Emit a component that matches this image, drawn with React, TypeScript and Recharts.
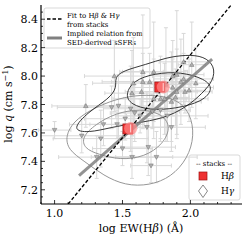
import { ComposedChart, XAxis, YAxis, Line, Scatter, ErrorBar } from 'recharts'

// axis ticks (minor + major) and which ones get a label
const xTicks = [0.9, 1.0, 1.1, 1.2, 1.3, 1.4, 1.5, 1.6, 1.7, 1.8, 1.9, 2.0, 2.1, 2.2, 2.3]
const xMajor = [1.0, 1.5, 2.0]
const yTicks = [
  7.15, 7.2, 7.25, 7.3, 7.35, 7.4, 7.45, 7.5, 7.55, 7.6, 7.65, 7.7, 7.75, 7.8, 7.85, 7.9, 7.95, 8.0,
  8.05, 8.1, 8.15, 8.2, 8.25, 8.3, 8.35, 8.4, 8.45,
]
const yMajor = [7.2, 7.4, 7.6, 7.8, 8.0, 8.2, 8.4]

// individual galaxies, high-q group (up triangles)
const upEW = [1.44, 1.23, 1.65, 1.65, 1.57, 1.64, 1.95, 2.01, 1.73, 1.87, 1.9, 1.7, 1.93, 1.95, 2.04, 1.82, 1.87, 1.9, 1.96, 1.99, 1.78, 1.81, 1.86, 1.89, 1.73, 1.58]
const upQ = [8.0, 7.79, 8.03, 7.96, 7.88, 7.89, 8.1, 8.08, 8.03, 8.0, 8.01, 7.96, 7.96, 7.98, 7.95, 7.94, 7.92, 7.89, 7.89, 7.9, 7.84, 7.84, 7.82, 7.85, 7.84, 7.95]
const upEWErr = [0.22, 0.25, 0.15, 0.3, 0.2, 0.12, 0.18, 0.1, 0.25, 0.15, 0.2, 0.28, 0.12, 0.22, 0.1, 0.18, 0.3, 0.15, 0.2, 0.12, 0.35, 0.16, 0.22, 0.1, 0.26, 0.3]
const upQErr = [0.25, 0.15, 0.4, 0.2, 0.3, 0.15, 0.2, 0.3, 0.35, 0.25, 0.45, 0.2, 0.3, 0.18, 0.25, 0.4, 0.2, 0.3, 0.15, 0.22, 0.3, 0.25, 0.35, 0.2, 0.28, 0.32]

// low-q group (down triangles)
const downEW = [1.0, 1.2, 1.36, 1.46, 1.34, 1.5, 1.31, 1.59, 1.72, 1.83, 1.68, 1.86, 1.57, 1.69, 1.71, 1.75, 1.42, 1.47, 1.56, 1.78, 1.52, 1.63]
const downQ = [7.62, 7.58, 7.66, 7.66, 7.56, 7.49, 7.43, 7.74, 7.75, 7.72, 7.64, 7.64, 7.43, 7.5, 7.37, 7.43, 7.78, 7.79, 7.77, 7.76, 7.7, 7.72]
const downEWErr = [0.12, 0.3, 0.25, 0.2, 0.35, 0.22, 0.28, 0.18, 0.2, 0.3, 0.15, 0.25, 0.3, 0.2, 0.15, 0.3, 0.4, 0.25, 0.2, 0.22, 0.3, 0.18]
const downQErr = [0.06, 0.12, 0.15, 0.1, 0.2, 0.12, 0.15, 0.2, 0.12, 0.18, 0.25, 0.1, 0.15, 0.2, 0.12, 0.18, 0.15, 0.22, 0.3, 0.2, 0.15, 0.12]

// stacked measurements
const stackEW = [1.775, 1.54]
const stackQ = [7.923, 7.628]
const stackGammaEW = [1.8, 1.56]
const stackGammaQ = [7.923, 7.632]

// relations
const fitEW = [1.1, 2.3]
const fitQ = [7.1, 8.5]
const sedEW = [1.18, 2.16]
const sedQ = [7.3, 8.12]

// density contours
const blackOuterEW = [1.12, 1.25, 1.4, 1.46, 1.44, 1.51, 1.67, 1.82, 1.97, 2.1, 2.18, 2.17, 2.09, 1.97, 1.8, 1.6, 1.42, 1.25]
const blackOuterQ = [7.62, 7.75, 7.84, 7.92, 7.99, 8.04, 8.08, 8.13, 8.15, 8.14, 8.07, 7.97, 7.88, 7.78, 7.7, 7.67, 7.64, 7.6]
const blackInnerEW = [1.52, 1.58, 1.74, 1.93, 2.11, 2.17, 2.09, 1.89, 1.7, 1.56]
const blackInnerQ = [7.87, 7.97, 8.02, 8.03, 7.98, 7.91, 7.82, 7.77, 7.76, 7.8]
const grayOuterEW = [1.08, 1.14, 1.26, 1.4, 1.55, 1.72, 1.9, 2.0, 2.03, 1.98, 1.86, 1.7, 1.52, 1.36, 1.22, 1.1]
const grayOuterQ = [7.58, 7.68, 7.76, 7.82, 7.86, 7.87, 7.84, 7.74, 7.58, 7.42, 7.29, 7.23, 7.23, 7.3, 7.4, 7.48]
const grayInnerEW = [1.2, 1.3, 1.45, 1.63, 1.78, 1.86, 1.8, 1.66, 1.48, 1.32, 1.22]
const grayInnerQ = [7.57, 7.66, 7.74, 7.77, 7.74, 7.65, 7.52, 7.43, 7.41, 7.45, 7.49]

const zip = (xs: number[], ys: number[]) => xs.map((x, i) => ({ x, y: ys[i] }))
const withErr = (xs: number[], ys: number[], exs: number[], eys: number[]) =>
  xs.map((x, i) => ({ x, y: ys[i], ex: exs[i], ey: eys[i] }))

const upData = withErr(upEW, upQ, upEWErr, upQErr)
const downData = withErr(downEW, downQ, downEWErr, downQErr)

const FONT = 'DejaVu Serif'
const X_DOMAIN: [number, number] = [0.9, 2.38]
const Y_DOMAIN: [number, number] = [7.1, 8.5]

const isMajor = (v: number, majors: number[]) => majors.some((m) => Math.abs(m - v) < 1e-6)

function BottomTick({ x, y, payload }: any) {
  const major = isMajor(payload.value, xMajor)
  return (
    <g>
      <line x1={x} x2={x} y1={y} y2={y - (major ? 4 : 2)} stroke="#000" strokeWidth={0.8} />
      {major && (
        <text x={x} y={y + 13} textAnchor="middle" fontSize={11} fontFamily={FONT} fill="#000">
          {payload.value.toFixed(1)}
        </text>
      )}
    </g>
  )
}

function TopTick({ x, y, payload }: any) {
  const major = isMajor(payload.value, xMajor)
  return <line x1={x} x2={x} y1={y} y2={y + (major ? 4 : 2)} stroke="#000" strokeWidth={0.8} />
}

function LeftTick({ x, y, payload }: any) {
  const major = isMajor(payload.value, yMajor)
  return (
    <g>
      <line x1={x} x2={x + (major ? 4 : 2)} y1={y} y2={y} stroke="#000" strokeWidth={0.8} />
      {major && (
        <text x={x - 3} y={y + 4} textAnchor="end" fontSize={11} fontFamily={FONT} fill="#000">
          {payload.value.toFixed(1)}
        </text>
      )}
    </g>
  )
}

function RightTick({ x, y, payload }: any) {
  const major = isMajor(payload.value, yMajor)
  return <line x1={x} x2={x - (major ? 4 : 2)} y1={y} y2={y} stroke="#000" strokeWidth={0.8} />
}

const UpTriangle = ({ cx, cy }: any) => (
  <path d={`M${cx},${cy - 2.3}L${cx + 2.3},${cy + 1.7}L${cx - 2.3},${cy + 1.7}Z`} fill="#b0b0b0" stroke="#6e6e6e" strokeWidth={0.5} />
)
const DownTriangle = ({ cx, cy }: any) => (
  <path d={`M${cx},${cy + 2.3}L${cx + 2.3},${cy - 1.7}L${cx - 2.3},${cy - 1.7}Z`} fill="#b0b0b0" stroke="#6e6e6e" strokeWidth={0.5} />
)
const StackSquare = ({ cx, cy }: any) => (
  <rect x={cx - 5} y={cy - 5} width={10} height={10} fill="#ee3030" stroke="#a01010" strokeWidth={0.7} />
)
const StackCircle = ({ cx, cy }: any) => (
  <g>
    <circle cx={cx} cy={cy} r={6.5} fill="#ff8a8a" fillOpacity={0.7} />
    <line x1={cx} x2={cx} y1={cy - 4} y2={cy + 4} stroke="#fff" strokeOpacity={0.7} strokeWidth={1} />
  </g>
)
const Nothing = () => <g />

const axisLine = { stroke: '#000', strokeWidth: 1.2 }

export default function App() {
  return (
    <div style={{ position: 'absolute', left: 0, top: 0 }}>
      <ComposedChart width={248} height={240} margin={{ top: 5, right: 6, left: 0, bottom: 0 }}>
        <XAxis
          type="number"
          dataKey="x"
          domain={X_DOMAIN}
          allowDataOverflow
          ticks={xTicks}
          interval={0}
          tickSize={0}
          tickMargin={0}
          tickLine={false}
          axisLine={axisLine}
          tick={<BottomTick />}
          height={36}
        />
        <XAxis
          xAxisId="top"
          orientation="top"
          type="number"
          dataKey="x"
          domain={X_DOMAIN}
          allowDataOverflow
          ticks={xTicks}
          interval={0}
          tickSize={0}
          tickMargin={0}
          tickLine={false}
          axisLine={axisLine}
          tick={<TopTick />}
          height={0}
        />
        <YAxis
          type="number"
          dataKey="y"
          domain={Y_DOMAIN}
          allowDataOverflow
          ticks={yTicks}
          interval={0}
          tickSize={0}
          tickMargin={0}
          tickLine={false}
          axisLine={axisLine}
          tick={<LeftTick />}
          width={41}
        />
        <YAxis
          yAxisId="right"
          orientation="right"
          type="number"
          dataKey="y"
          domain={Y_DOMAIN}
          allowDataOverflow
          ticks={yTicks}
          interval={0}
          tickSize={0}
          tickMargin={0}
          tickLine={false}
          axisLine={axisLine}
          tick={<RightTick />}
          width={0}
        />

        {/* error bars first, underneath everything else */}
        <Scatter data={upData} dataKey="y" shape={<Nothing />} isAnimationActive={false}>
          <ErrorBar dataKey="ex" direction="x" width={2} stroke="#d8d8d8" strokeWidth={1} isAnimationActive={false} />
          <ErrorBar dataKey="ey" direction="y" width={2} stroke="#d8d8d8" strokeWidth={1} isAnimationActive={false} />
        </Scatter>
        <Scatter data={downData} dataKey="y" shape={<Nothing />} isAnimationActive={false}>
          <ErrorBar dataKey="ex" direction="x" width={2} stroke="#d8d8d8" strokeWidth={1} isAnimationActive={false} />
          <ErrorBar dataKey="ey" direction="y" width={2} stroke="#d8d8d8" strokeWidth={1} isAnimationActive={false} />
        </Scatter>

        <Line data={zip(grayOuterEW, grayOuterQ)} dataKey="y" type="basisClosed" stroke="#8a8a8a" strokeWidth={0.9} dot={false} isAnimationActive={false} />
        <Line data={zip(grayInnerEW, grayInnerQ)} dataKey="y" type="basisClosed" stroke="#8a8a8a" strokeWidth={0.9} dot={false} isAnimationActive={false} />
        <Line data={zip(blackOuterEW, blackOuterQ)} dataKey="y" type="basisClosed" stroke="#222" strokeWidth={0.9} dot={false} isAnimationActive={false} />
        <Line data={zip(blackInnerEW, blackInnerQ)} dataKey="y" type="basisClosed" stroke="#222" strokeWidth={0.9} dot={false} isAnimationActive={false} />

        <Scatter data={upData} dataKey="y" shape={<UpTriangle />} isAnimationActive={false} />
        <Scatter data={downData} dataKey="y" shape={<DownTriangle />} isAnimationActive={false} />

        <Line data={zip(sedEW, sedQ)} dataKey="y" type="linear" stroke="#808080" strokeOpacity={0.85} strokeWidth={3} dot={false} isAnimationActive={false} />
        <Line data={zip(fitEW, fitQ)} dataKey="y" type="linear" stroke="#000" strokeWidth={1.3} strokeDasharray="3.5 2" dot={false} isAnimationActive={false} />

        <Scatter data={zip(stackEW, stackQ)} dataKey="y" shape={<StackSquare />} isAnimationActive={false} />
        <Scatter data={zip(stackGammaEW, stackGammaQ)} dataKey="y" shape={<StackCircle />} isAnimationActive={false} />

        {/* axis titles */}
        <text x={141} y={232} textAnchor="middle" fontSize={11} fontFamily={FONT}>
          log EW(H<tspan fontStyle="italic">β</tspan>)  (Å)
        </text>
        <text x={12} y={104} textAnchor="middle" fontSize={11} fontFamily={FONT} transform="rotate(-90 12 104)">
          log <tspan fontStyle="italic">q</tspan> (cm s<tspan dy={-4} fontSize={8}>−1</tspan><tspan dy={4}>)</tspan>
        </text>

        {/* upper-left legend */}
        <rect x={44} y={8} width={106} height={40} rx={2} fill="#fff" fillOpacity={0.9} stroke="#cfcfcf" strokeWidth={0.8} />
        <line x1={47} x2={62} y1={19} y2={19} stroke="#000" strokeWidth={1.3} strokeDasharray="3.5 2" />
        <text x={67} y={17.5} fontFamily={FONT} fontSize={7}>
          Fit to H<tspan fontStyle="italic">β</tspan> &amp; H<tspan fontStyle="italic">γ</tspan>
        </text>
        <text x={67} y={26.5} fontFamily={FONT} fontSize={7}>from stacks</text>
        <line x1={47} x2={62} y1={38} y2={38} stroke="#808080" strokeWidth={3} />
        <text x={67} y={36} fontFamily={FONT} fontSize={7}>Implied relation from</text>
        <text x={67} y={45} fontFamily={FONT} fontSize={7}>SED-derived sSFRs</text>

        {/* lower-right legend */}
        <rect x={189} y={155} width={51} height={45} rx={2} fill="#fff" fillOpacity={0.9} stroke="#cfcfcf" strokeWidth={0.8} />
        <text x={214} y={165.5} textAnchor="middle" fontFamily={FONT} fontSize={7}>-- stacks --</text>
        <rect x={199} y={172} width={8} height={8} fill="#ee3030" stroke="#a01010" strokeWidth={0.7} />
        <text x={221} y={179} fontFamily={FONT} fontSize={9}>
          H<tspan fontStyle="italic">β</tspan>
        </text>
        <path d="M203,185L207.5,191L203,197.5L198.5,191Z" fill="#fff" stroke="#555" strokeWidth={0.7} />
        <text x={221} y={194} fontFamily={FONT} fontSize={9}>
          H<tspan fontStyle="italic">γ</tspan>
        </text>
      </ComposedChart>
    </div>
  )
}
